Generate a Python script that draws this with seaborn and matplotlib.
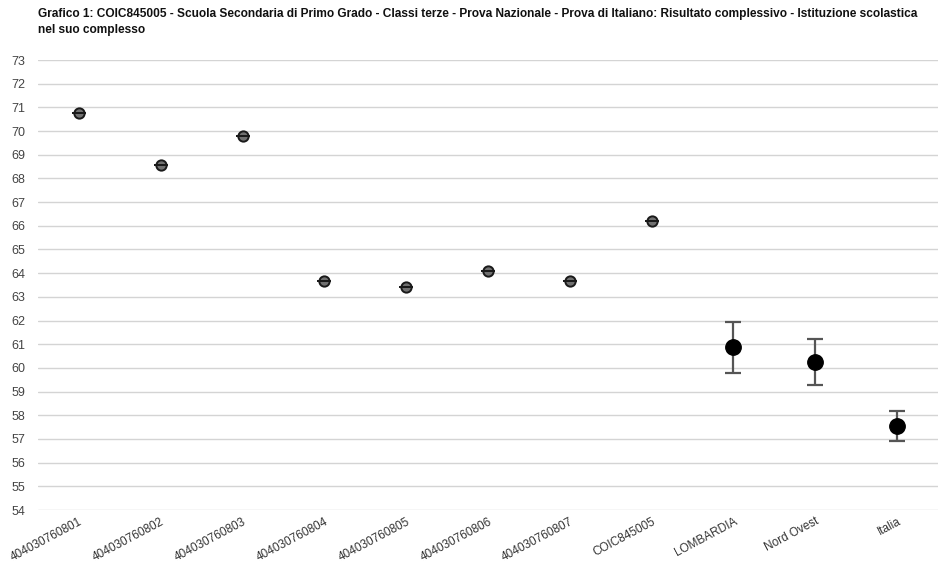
import matplotlib
matplotlib.use("Agg")
import matplotlib.pyplot as plt
import seaborn as sns
import pandas as pd
import numpy as np

categories = ["404030760801", "404030760802", "404030760803", "404030760804",
              "404030760805", "404030760806", "404030760807", "COIC845005",
              "LOMBARDIA", "Nord Ovest", "Italia"]
scores = [70.75, 68.57, 69.81, 63.67, 63.41, 64.09, 63.67, 66.22, 60.88, 60.26, 57.55]
err_low = [0.0, 0.0, 0.0, 0.0, 0.0, 0.0, 0.0, 0.0, 1.08, 0.97, 0.62]
err_high = [0.0, 0.0, 0.0, 0.0, 0.0, 0.0, 0.0, 0.0, 1.07, 0.96, 0.61]
is_reference = [False] * 8 + [True] * 3

title = ("Grafico 1: COIC845005 - Scuola Secondaria di Primo Grado - Classi terze - Prova Nazionale - "
         "Prova di Italiano: Risultato complessivo - Istituzione scolastica\nnel suo complesso")

df = pd.DataFrame({"categoria": categories, "punteggio": scores,
                   "basso": err_low, "alto": err_high, "riferimento": is_reference})

sns.set_style("white")
plt.rcParams["font.family"] = ["Liberation Sans", "DejaVu Sans"]

fig = plt.figure(figsize=(9.38, 5.69), dpi=100)
ax = fig.add_axes([38 / 938, 1 - 510 / 569, 900 / 938, 450 / 569])

x = np.arange(len(categories))
df["x"] = x

# school classes: small grey dots crossed by a flat cap
cls = df[~df["riferimento"]]
ax.errorbar(cls["x"], cls["punteggio"], yerr=[cls["basso"], cls["alto"]], fmt="none",
            ecolor="#1a1a1a", elinewidth=1.3, capsize=5, capthick=1.3, zorder=4)
sns.scatterplot(data=cls, x="x", y="punteggio", s=55, color="#707070",
                edgecolor="#1a1a1a", linewidth=1.4, ax=ax, zorder=3, legend=False)

# reference areas with confidence bars
ref = df[df["riferimento"]]
ax.errorbar(ref["x"], ref["punteggio"], yerr=[ref["basso"], ref["alto"]], fmt="none",
            ecolor="#555555", elinewidth=1.6, capsize=6, capthick=1.6, zorder=2)
sns.scatterplot(data=ref, x="x", y="punteggio", s=125, color="black",
                edgecolor="black", ax=ax, zorder=3, legend=False)

ax.set_xlim(-0.5, len(categories) - 0.5)
ax.set_ylim(54, 73)
ax.set_yticks(range(54, 74))
ax.set_yticklabels([str(v) for v in range(54, 74)], fontsize=9, color="#444444")
ax.set_xticks(x)
ax.set_xticklabels(categories, rotation=28, ha="right", rotation_mode="anchor",
                   fontsize=8.5, color="#333333")
ax.tick_params(axis="y", length=0, pad=9)
ax.tick_params(axis="x", length=0, pad=4)
ax.yaxis.grid(True, color="#d4d4d4", linewidth=1)
ax.set_axisbelow(True)
for s in ax.spines.values():
    s.set_visible(False)
ax.set_xlabel("")
ax.set_ylabel("")

fig.text(38 / 938, 1 - 8 / 569, title, ha="left", va="top", fontsize=8.6,
         fontweight="bold", color="#111111", linespacing=1.45)

fig.savefig("out.png", dpi=100)
